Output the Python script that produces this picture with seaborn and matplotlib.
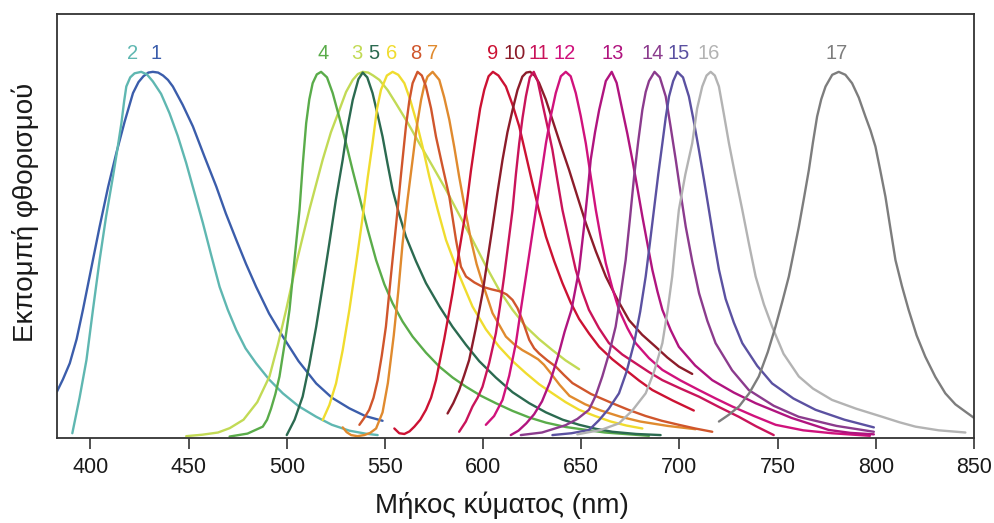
import matplotlib
matplotlib.use("Agg")
import matplotlib.pyplot as plt
import seaborn as sns
import pandas as pd

sns.set_theme(style="white")
plt.rcParams['font.family'] = ['Liberation Sans', 'DejaVu Sans']

# ---------------- data ----------------
dye_labels = ['1', '2', '3', '4', '5', '6', '7', '8', '9', '10',
              '11', '12', '13', '14', '15', '16', '17']
dye_colors = ['#3b5dab', '#5fb7b1', '#c2da55', '#5aac4a', '#2b6a50', '#f0dc2e',
              '#e08a2e', '#d0562c', '#cc1233', '#8c1c2a', '#c9145a', '#d0127c',
              '#b0147f', '#8b3b8d', '#5b51a1', '#b3b3b3', '#7d7d7d']
label_x = [433.2, 421.4, 535.6, 518.3, 544.3, 553.6, 574.3, 565.8, 604.8, 616.3,
           628.6, 641.3, 665.8, 686.2, 699.7, 715.0, 779.8]
label_y = 1.049

wl_1 = [383.0, 386.0, 389.5, 393.0, 396.2, 400.5, 404.7, 409.0, 413.2, 417.5, 421.7,
        424.5, 427.0, 429.5, 431.8, 434.5, 437.0, 439.5, 442.0, 447.0, 452.2, 458.0,
        464.1, 469.0, 474.3, 479.3, 484.4, 491.0, 498.0, 506.0, 515.0, 523.0, 531.9,
        540.0, 548.8]
em_1 = [0.127, 0.160, 0.204, 0.270, 0.350, 0.465, 0.577, 0.685, 0.778, 0.865, 0.942,
        0.972, 0.988, 0.998, 1.000, 0.998, 0.990, 0.978, 0.960, 0.910, 0.851, 0.770,
        0.687, 0.613, 0.541, 0.475, 0.413, 0.340, 0.277, 0.210, 0.149, 0.110, 0.081,
        0.060, 0.047]

wl_2 = [390.8, 394.5, 398.0, 401.3, 404.7, 408.0, 411.5, 413.8, 415.8, 417.2, 418.3,
        420.3, 422.5, 425.9, 428.8, 431.8, 436.0, 440.3, 444.5, 448.8, 453.0, 457.3,
        461.5, 465.8, 470.0, 474.3, 479.0, 484.4, 491.0, 498.0, 506.0, 515.0, 523.0,
        531.9, 540.0, 546.3]
em_2 = [0.013, 0.110, 0.213, 0.350, 0.486, 0.605, 0.714, 0.790, 0.860, 0.920, 0.960,
        0.985, 0.996, 1.000, 0.993, 0.974, 0.940, 0.887, 0.825, 0.751, 0.670, 0.587,
        0.500, 0.413, 0.350, 0.295, 0.245, 0.204, 0.160, 0.122, 0.087, 0.058, 0.036,
        0.020, 0.012, 0.008]

wl_3 = [448.8, 457.0, 465.0, 471.0, 478.0, 485.0, 491.2, 495.5, 499.7, 505.0, 511.5,
        518.3, 522.5, 526.8, 530.2, 533.6, 536.2, 538.7, 541.5, 544.0, 547.2, 551.4,
        555.6, 561.5, 567.5, 574.3, 581.1, 587.8, 594.6, 601.4, 608.2, 615.0, 621.8,
        628.5, 635.3, 642.0, 648.9]
em_3 = [0.005, 0.009, 0.015, 0.027, 0.050, 0.098, 0.168, 0.255, 0.350, 0.480, 0.623,
        0.760, 0.835, 0.896, 0.945, 0.978, 0.994, 1.000, 0.998, 0.990, 0.978, 0.950,
        0.914, 0.862, 0.805, 0.742, 0.678, 0.610, 0.541, 0.470, 0.404, 0.350, 0.304,
        0.270, 0.240, 0.212, 0.188]

wl_4 = [470.9, 480.0, 487.8, 490.0, 492.0, 494.2, 496.3, 499.0, 501.4, 504.0, 506.5,
        508.2, 509.9, 511.5, 513.2, 515.3, 517.5, 520.5, 523.4, 526.8, 530.2, 533.6,
        537.0, 541.2, 545.5, 549.7, 553.9, 559.0, 564.1, 570.9, 577.7, 584.5, 591.3,
        599.0, 606.5, 615.0, 623.5, 632.0, 642.1, 662.0, 684.5]
em_4 = [0.004, 0.012, 0.031, 0.050, 0.080, 0.120, 0.168, 0.260, 0.350, 0.490, 0.623,
        0.750, 0.860, 0.925, 0.969, 0.993, 1.000, 0.985, 0.942, 0.875, 0.805, 0.730,
        0.659, 0.570, 0.486, 0.420, 0.368, 0.318, 0.277, 0.233, 0.195, 0.165, 0.140,
        0.115, 0.095, 0.074, 0.056, 0.042, 0.030, 0.015, 0.006]

wl_5 = [500.0, 504.0, 508.1, 511.5, 515.0, 518.4, 521.7, 525.0, 528.5, 531.0, 533.6,
        536.5, 538.7, 541.0, 543.7, 546.2, 548.8, 551.3, 553.9, 557.3, 560.7, 565.8,
        570.9, 577.7, 584.4, 591.2, 598.0, 606.5, 615.0, 623.5, 632.0, 640.5, 649.0,
        657.5, 665.8, 678.0, 690.4]
em_5 = [0.008, 0.050, 0.113, 0.200, 0.304, 0.418, 0.532, 0.650, 0.760, 0.850, 0.923,
        0.980, 0.998, 0.985, 0.942, 0.885, 0.823, 0.750, 0.678, 0.610, 0.550, 0.483,
        0.423, 0.360, 0.304, 0.255, 0.210, 0.165, 0.125, 0.095, 0.070, 0.050, 0.036,
        0.025, 0.017, 0.011, 0.008]

wl_6 = [518.3, 521.7, 525.1, 528.5, 531.9, 535.3, 538.7, 541.2, 543.7, 546.0, 548.0,
        551.0, 553.9, 556.8, 559.9, 562.8, 565.8, 569.2, 572.6, 576.8, 581.1, 587.8,
        594.6, 601.4, 608.2, 615.0, 621.8, 628.5, 635.3, 642.0, 648.9, 657.0, 665.0,
        673.0, 681.1]
em_6 = [0.049, 0.090, 0.149, 0.240, 0.350, 0.475, 0.605, 0.710, 0.805, 0.900, 0.951,
        0.990, 1.000, 0.992, 0.969, 0.925, 0.869, 0.795, 0.714, 0.625, 0.541, 0.445,
        0.359, 0.297, 0.249, 0.210, 0.177, 0.147, 0.122, 0.098, 0.077, 0.060, 0.045,
        0.034, 0.026]

wl_7 = [528.5, 530.5, 532.8, 536.0, 539.5, 542.5, 545.5, 548.8, 551.5, 554.5, 556.8,
        559.0, 561.5, 564.1, 566.2, 568.4, 570.0, 571.7, 574.3, 577.7, 580.2, 582.8,
        585.3, 587.8, 590.8, 593.8, 596.7, 599.7, 604.8, 611.6, 616.0, 620.0, 624.0,
        628.0, 631.0, 634.0, 639.0, 644.0, 652.0, 660.0, 670.0, 680.0, 694.0, 708.2]
em_7 = [0.029, 0.016, 0.008, 0.005, 0.008, 0.014, 0.026, 0.070, 0.150, 0.280, 0.400,
        0.532, 0.650, 0.760, 0.850, 0.923, 0.962, 0.987, 1.000, 0.978, 0.930, 0.869,
        0.795, 0.714, 0.625, 0.541, 0.475, 0.423, 0.341, 0.277, 0.255, 0.240, 0.228,
        0.215, 0.200, 0.180, 0.145, 0.115, 0.092, 0.075, 0.058, 0.045, 0.033, 0.024]

wl_8 = [537.0, 539.5, 542.0, 544.2, 546.3, 548.4, 550.5, 553.0, 555.6, 558.2, 560.7,
        562.4, 564.1, 566.6, 568.8, 570.9, 573.5, 576.0, 579.4, 582.8, 586.2, 588.7,
        591.3, 595.5, 599.7, 604.3, 609.0, 612.0, 615.0, 617.5, 620.0, 623.5, 626.0,
        628.5, 632.7, 637.0, 641.2, 645.5, 655.0, 665.8, 674.0, 682.8, 691.0, 699.7,
        708.0, 716.7]
em_8 = [0.036, 0.055, 0.077, 0.110, 0.158, 0.225, 0.304, 0.440, 0.577, 0.720, 0.851,
        0.920, 0.969, 1.000, 0.990, 0.960, 0.900, 0.823, 0.740, 0.659, 0.541, 0.468,
        0.441, 0.425, 0.413, 0.406, 0.400, 0.392, 0.377, 0.355, 0.322, 0.268, 0.245,
        0.231, 0.212, 0.195, 0.172, 0.150, 0.120, 0.095, 0.077, 0.060, 0.047, 0.036,
        0.026, 0.017]

wl_9 = [554.8, 557.3, 559.9, 562.5, 565.0, 568.0, 570.9, 573.5, 576.0, 580.2, 584.4,
        587.8, 591.3, 593.8, 596.3, 598.5, 600.6, 602.8, 605.0, 607.8, 611.6, 615.0,
        618.4, 621.7, 625.1, 628.5, 632.0, 636.2, 640.4, 644.6, 648.9, 654.0, 659.1,
        665.8, 672.6, 679.4, 686.2, 696.7, 707.3]
em_9 = [0.026, 0.013, 0.011, 0.018, 0.031, 0.050, 0.077, 0.110, 0.158, 0.270, 0.395,
        0.510, 0.623, 0.730, 0.823, 0.900, 0.951, 0.988, 1.000, 0.990, 0.960, 0.910,
        0.851, 0.775, 0.696, 0.620, 0.550, 0.483, 0.423, 0.370, 0.325, 0.285, 0.249,
        0.215, 0.186, 0.157, 0.131, 0.102, 0.075]

wl_10 = [581.9, 584.8, 587.8, 590.3, 592.9, 596.3, 599.7, 602.2, 604.8, 607.3, 609.9,
         612.4, 615.0, 617.5, 620.0, 622.0, 624.0, 626.2, 628.5, 631.9, 635.3, 639.5,
         643.8, 648.0, 652.3, 657.4, 662.5, 668.4, 674.3, 681.0, 687.9, 693.8, 699.7,
         706.5]
em_10 = [0.067, 0.095, 0.131, 0.170, 0.213, 0.300, 0.395, 0.485, 0.577, 0.670, 0.760,
         0.835, 0.896, 0.950, 0.987, 0.998, 1.000, 0.990, 0.970, 0.925, 0.869, 0.800,
         0.732, 0.660, 0.587, 0.510, 0.441, 0.378, 0.322, 0.282, 0.249, 0.220, 0.195,
         0.175]

wl_11 = [587.8, 591.2, 594.6, 597.2, 599.7, 603.1, 606.5, 608.6, 610.7, 612.8, 615.0,
         616.7, 618.4, 620.1, 621.8, 623.8, 625.8, 627.8, 630.2, 632.7, 635.3, 637.8,
         640.4, 643.8, 647.2, 650.5, 653.9, 659.0, 664.1, 670.9, 677.7, 684.5, 691.3,
         700.6, 709.9, 720.0, 730.2, 739.0, 748.0]
em_11 = [0.017, 0.045, 0.086, 0.110, 0.140, 0.205, 0.286, 0.360, 0.441, 0.530, 0.623,
         0.720, 0.805, 0.875, 0.933, 0.985, 1.000, 0.975, 0.914, 0.853, 0.787, 0.705,
         0.623, 0.540, 0.459, 0.400, 0.350, 0.300, 0.259, 0.228, 0.204, 0.180, 0.158,
         0.135, 0.113, 0.085, 0.058, 0.032, 0.008]

wl_12 = [601.4, 605.6, 609.9, 613.3, 616.7, 619.2, 621.8, 624.3, 626.9, 629.5, 632.0,
         634.5, 637.0, 639.6, 642.1, 644.6, 647.2, 649.7, 652.3, 654.8, 657.4, 660.0,
         662.5, 665.8, 669.2, 673.5, 677.7, 684.5, 691.3, 700.6, 709.9, 718.4, 726.9,
         738.0, 749.0, 763.0, 777.7, 797.0]
em_12 = [0.036, 0.060, 0.104, 0.170, 0.259, 0.350, 0.441, 0.530, 0.623, 0.715, 0.805,
         0.880, 0.942, 0.988, 1.000, 0.988, 0.942, 0.880, 0.805, 0.715, 0.623, 0.545,
         0.477, 0.410, 0.350, 0.300, 0.259, 0.218, 0.186, 0.157, 0.131, 0.108, 0.086,
         0.060, 0.036, 0.021, 0.013, 0.006]

wl_13 = [614.1, 618.0, 622.0, 626.0, 630.0, 634.0, 638.0, 641.5, 645.0, 648.9, 651.4,
         653.2, 654.8, 657.0, 659.1, 662.5, 665.5, 668.0, 670.9, 673.5, 676.0, 678.5,
         681.1, 683.7, 686.2, 688.8, 691.3, 695.5, 699.7, 708.0, 716.7, 727.7, 738.8,
         757.0, 776.0, 787.0, 799.0]
em_13 = [0.008, 0.020, 0.040, 0.065, 0.100, 0.152, 0.220, 0.290, 0.350, 0.460, 0.577,
         0.670, 0.760, 0.835, 0.896, 0.975, 1.000, 0.970, 0.896, 0.830, 0.760, 0.685,
         0.605, 0.530, 0.459, 0.400, 0.350, 0.295, 0.249, 0.198, 0.158, 0.124, 0.095,
         0.055, 0.022, 0.014, 0.010]

wl_14 = [619.2, 630.0, 642.0, 648.0, 653.9, 657.3, 660.7, 664.1, 667.5, 670.0, 672.6,
         674.8, 676.9, 679.0, 681.1, 682.8, 684.5, 687.3, 690.0, 693.0, 695.5, 698.1,
         700.6, 703.2, 706.6, 710.0, 714.2, 718.4, 726.8, 735.3, 748.0, 760.7, 780.0,
         799.0]
em_14 = [0.008, 0.015, 0.035, 0.052, 0.077, 0.115, 0.168, 0.230, 0.304, 0.390, 0.486,
         0.600, 0.714, 0.810, 0.896, 0.945, 0.975, 1.000, 0.985, 0.933, 0.850, 0.760,
         0.668, 0.577, 0.480, 0.395, 0.320, 0.259, 0.185, 0.131, 0.088, 0.058, 0.033,
         0.017]

wl_15 = [635.3, 645.0, 654.0, 659.1, 664.0, 669.2, 673.0, 676.9, 680.0, 682.8, 685.0,
         687.0, 689.2, 691.3, 693.0, 694.7, 696.8, 698.9, 701.8, 704.8, 707.3, 709.9,
         712.5, 715.0, 717.5, 720.1, 723.5, 727.7, 732.0, 739.6, 747.2, 758.0, 769.3,
         784.0, 799.0]
em_15 = [0.008, 0.013, 0.022, 0.049, 0.080, 0.122, 0.180, 0.259, 0.345, 0.441, 0.535,
         0.623, 0.720, 0.805, 0.875, 0.933, 0.975, 1.000, 0.985, 0.933, 0.865, 0.787,
         0.705, 0.623, 0.540, 0.460, 0.380, 0.315, 0.259, 0.197, 0.149, 0.108, 0.077,
         0.050, 0.029]

wl_16 = [648.0, 660.0, 669.2, 676.0, 682.8, 687.0, 691.3, 694.0, 696.3, 698.0, 699.7,
         703.0, 706.5, 709.0, 711.6, 713.8, 715.9, 718.0, 720.1, 722.6, 725.2, 728.6,
         732.0, 735.4, 738.8, 743.0, 747.2, 753.0, 760.8, 768.0, 777.7, 790.0, 803.2,
         812.0, 820.2, 832.0, 845.6]
em_16 = [0.010, 0.022, 0.040, 0.075, 0.122, 0.180, 0.259, 0.350, 0.441, 0.535, 0.623,
         0.720, 0.805, 0.900, 0.960, 0.990, 1.000, 0.990, 0.960, 0.885, 0.805, 0.712,
         0.623, 0.530, 0.441, 0.365, 0.304, 0.230, 0.168, 0.135, 0.104, 0.080, 0.058,
         0.043, 0.031, 0.021, 0.015]

wl_17 = [720.1, 725.0, 730.3, 735.5, 740.4, 745.0, 748.9, 752.5, 755.7, 758.3, 760.8,
         763.4, 765.9, 768.0, 770.1, 772.2, 774.4, 777.8, 781.1, 784.5, 787.9, 791.3,
         794.7, 797.3, 799.8, 802.3, 804.9, 807.5, 810.0, 813.3, 816.7, 820.8, 825.2,
         830.3, 835.4, 840.5, 845.6, 850.0]
em_17 = [0.045, 0.063, 0.086, 0.122, 0.168, 0.235, 0.304, 0.375, 0.441, 0.510, 0.577,
         0.655, 0.732, 0.808, 0.878, 0.925, 0.960, 0.992, 1.000, 0.992, 0.969, 0.930,
         0.878, 0.840, 0.796, 0.730, 0.659, 0.570, 0.486, 0.415, 0.350, 0.280, 0.222,
         0.167, 0.122, 0.092, 0.072, 0.055]

x_ticks = [400, 450, 500, 550, 600, 650, 700, 750, 800, 850]
x_label = 'Μήκος κύματος (nm)'
y_label = 'Εκπομπή φθορισμού'

# ---------------- build table ----------------
all_wl = [wl_1, wl_2, wl_3, wl_4, wl_5, wl_6, wl_7, wl_8, wl_9, wl_10, wl_11, wl_12,
          wl_13, wl_14, wl_15, wl_16, wl_17]
all_em = [em_1, em_2, em_3, em_4, em_5, em_6, em_7, em_8, em_9, em_10, em_11, em_12,
          em_13, em_14, em_15, em_16, em_17]
rows = []
for lab, xs, ys in zip(dye_labels, all_wl, all_em):
    for xv, yv in zip(xs, ys):
        rows.append((lab, xv, yv))
df = pd.DataFrame(rows, columns=['dye', 'wl', 'em'])

# ---------------- figure ----------------
fig = plt.figure(figsize=(9.95, 5.23), dpi=100)
ax = fig.add_axes([57 / 995, 1 - 438 / 523, (974 - 57) / 995, (438 - 14) / 523])

sns.lineplot(data=df, x='wl', y='em', hue='dye', hue_order=dye_labels,
             palette=dict(zip(dye_labels, dye_colors)), estimator=None, sort=False,
             legend=False, linewidth=1.7, ax=ax)
for ln in ax.get_lines():
    ln.set_solid_joinstyle('round')
    ln.set_solid_capstyle('round')

for lab, col, lx in zip(dye_labels, dye_colors, label_x):
    ax.text(lx, label_y, lab, color=col, ha='center', va='center', fontsize=14.5)

ax.set_xlim(383, 850)
ax.set_ylim(0, 1.158)
ax.set_yticks([])
ax.set_xticks(x_ticks)
ax.set_xticklabels([str(t) for t in x_ticks])
ax.tick_params(axis='x', bottom=True, direction='out', length=8, width=1.2,
               color='#333333', labelsize=15.5, pad=6, labelcolor='#1a1a1a')
for sp in ax.spines.values():
    sp.set_visible(True)
    sp.set_color('#333333')
    sp.set_linewidth(1.3)
ax.set_xlabel('')
ax.set_ylabel('')

fig.text(501.6 / 995, 1 - 505 / 523, x_label, ha='center', va='center',
         fontsize=20, color='#1a1a1a')
fig.text(25 / 995, 1 - 212 / 523, y_label, ha='center', va='center',
         rotation=90, fontsize=20, color='#1a1a1a')

fig.savefig('out.png', dpi=100)
